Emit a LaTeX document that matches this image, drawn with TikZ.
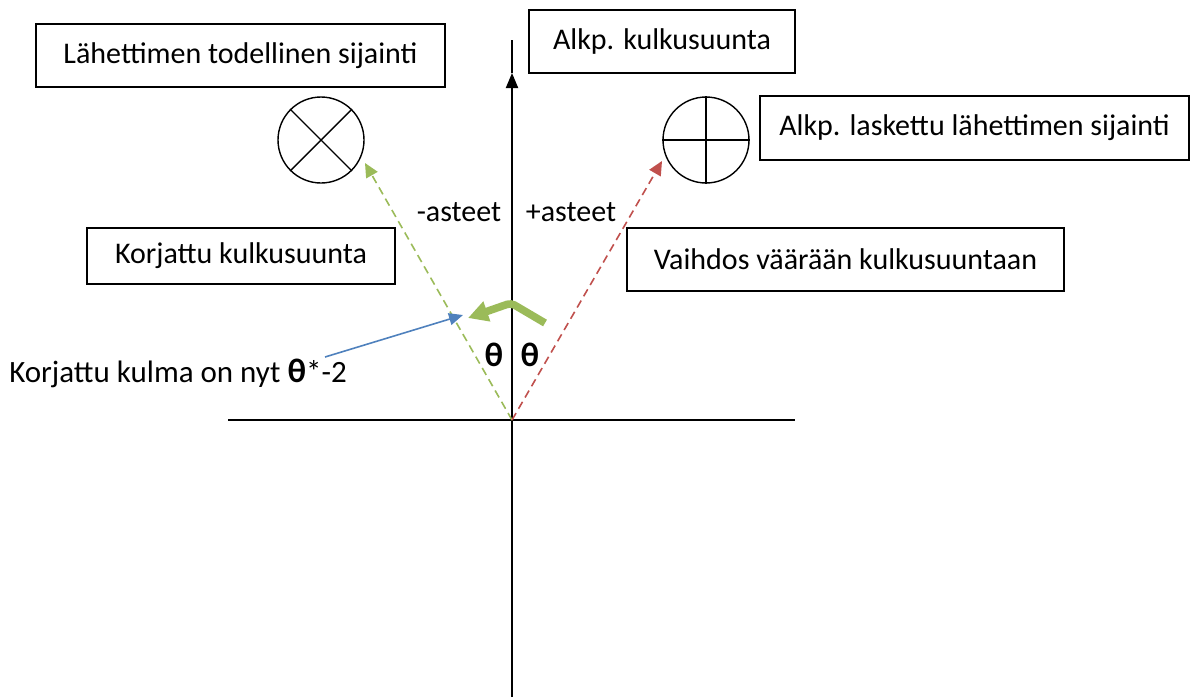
\documentclass[tikz,border=0pt]{standalone}
\usepackage{fontspec}
\setmainfont{Carlito}
\usepackage{xcolor}
\usepackage{tikz}
\usetikzlibrary{positioning, arrows.meta}
\definecolor{OffGreen}{RGB}{155,187,89}
\definecolor{OffRed}{RGB}{192,80,77}
\definecolor{OffBlue}{RGB}{79,129,189}
\newcommand{\thsym}{{\fontsize{17pt}{17pt}\selectfont\bfseries θ}}
\tikzset{
  infobox/.style={draw=black, line width=0.7pt, rectangle, inner sep=2pt, align=center},
  sitecircle/.style={draw=black, line width=0.7pt, circle, minimum size=43pt, inner sep=0pt},
  axisline/.style={line width=1pt, black},
  axisarrow/.style={axisline, -{Triangle[length=7.5pt,width=6pt]}},
  truearr/.style={OffGreen, line width=0.8pt, dash pattern=on 4pt off 2.5pt, -{Triangle[length=7pt,width=6.5pt]}},
  wrongarr/.style={OffRed, line width=0.8pt, dash pattern=on 4pt off 2.5pt, -{Triangle[length=7pt,width=6.5pt]}},
  notearr/.style={OffBlue, line width=0.8pt, -{Triangle[length=7pt,width=6pt]}},
  fixarr/.style={OffGreen, line width=3.8pt, rounded corners=2pt, -{Triangle[length=10pt,width=10pt]}},
  plain/.style={inner sep=1pt},
}

\begin{document}
\begin{tikzpicture}[x=0.5pt, y=-0.5pt, font=\fontsize{15pt}{17pt}\selectfont]
  \useasboundingbox (0,0) rectangle (1192,697);
  % axes
  \coordinate (o) at (512,420);
  \coordinate (axbot) at (512,697);
  \coordinate (axtip) at (512,73);
  \coordinate (axtop) at (512,40);
  \coordinate (hl) at (228,420);
  \coordinate (hr) at (795,420);
  \draw[axisarrow] (axbot) -- (axtip);
  \draw[axisline] (axtip) -- (axtop);
  \draw[axisline] (hl) -- (hr);

  % text boxes
  \node[infobox, minimum width=204.5pt, minimum height=31.5pt] (truebox) at (240.5,55.5) {Lähettimen todellinen sijainti};
  \node[infobox, minimum width=133pt, minimum height=31.5pt] (dirbox) at (662,41.5) {Alkp. kulkusuunta};
  \node[infobox, minimum width=214.5pt, minimum height=32pt] (estbox) at (974.5,128) {Alkp. laskettu lähettimen sijainti};
  \node[infobox, minimum width=154pt, minimum height=28pt] (fixbox) at (241,256) {Korjattu kulkusuunta};
  \node[infobox, minimum width=218.5pt, minimum height=31.5pt] (swapbox) at (845.5,259.5) {Vaihdos väärään kulkusuuntaan};

  % transmitter symbols
  \node[sitecircle] (truesite) at (321,140) {};
  \draw[line width=0.7pt] (truesite.north west) -- (truesite.south east);
  \draw[line width=0.7pt] (truesite.north east) -- (truesite.south west);
  \node[sitecircle] (estsite) at (706,140) {};
  \draw[line width=0.7pt] (estsite.north) -- (estsite.south);
  \draw[line width=0.7pt] (estsite.west) -- (estsite.east);

  % directions
  \coordinate (truetip) at (365,163);
  \coordinate (wrongtip) at (662,161);
  \draw[truearr] (o) -- (truetip);
  \draw[wrongarr] (o) -- (wrongtip);

  \node[plain] (minus) at (459,212) {-asteet};
  \node[plain] (plus) at (571,212) {+asteet};
  \node[plain] (thl) at (494,355) {\thsym};
  \node[plain] (thr) at (530,355) {\thsym};

  % correction
  \coordinate (fs) at (545,323);
  \coordinate (fp) at (511,303);
  \coordinate (fe) at (468,318);
  \draw[fixarr] (fs) -- (fp) -- (fe);

  \node[plain, font=\fontsize{15.5pt}{17pt}\selectfont] (note) at (178,373) {Korjattu kulma on nyt \thsym*-2};
  \coordinate (notestart) at (325,357);
  \coordinate (notetip) at (463,315);
  \draw[notearr] (notestart) -- (notetip);
\end{tikzpicture}
\end{document}
